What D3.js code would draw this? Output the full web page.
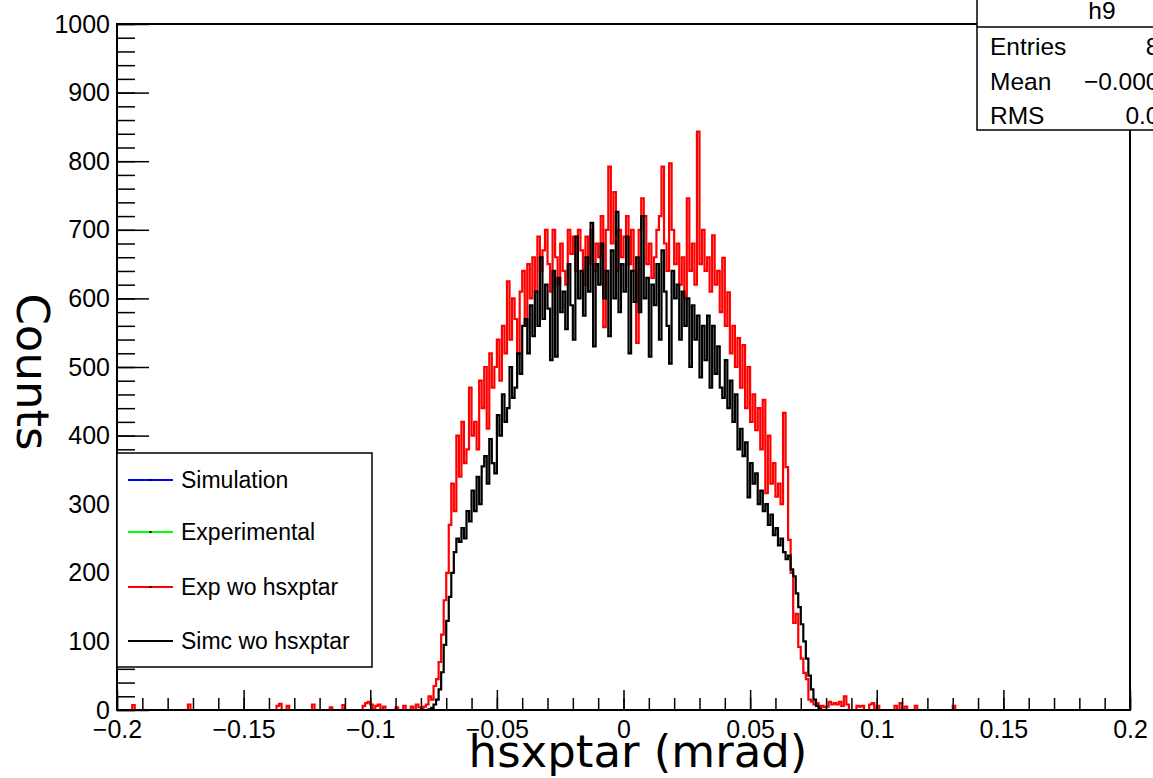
<!DOCTYPE html>
<html>
<head>
<meta charset="utf-8">
<script src="https://cdn.jsdelivr.net/npm/d3@7"></script>
<style>
  body { margin: 0; background: #fff; }
  svg { display: block; }
</style>
</head>
<body>
<svg width="1153" height="778"></svg>
<script>
// histogram settings: 400 bins of 0.001 between -0.2 and 0.2
const binWidth = 0.001
const nBins = 400
const coreStart = -0.080   // first bin low edge of the arrays below

// Simc wo hsxptar (black), bins from -0.080 to 0.079
const simcCounts = [
  0,0,0,1,3,8,15,30,55,95,
  130,165,200,230,250,245,265,250,290,275,
  320,290,340,300,355,370,330,395,360,345,
  430,400,460,420,440,500,455,470,520,490,
  560,570,520,590,545,610,560,660,570,620,
  585,510,640,515,630,580,610,555,650,590,
  540,690,600,640,575,660,610,710,530,650,
  620,680,600,640,545,670,600,726,580,650,
  610,690,520,640,595,660,580,720,600,630,
  515,620,590,650,540,670,610,560,505,640,
  600,620,540,610,560,600,500,590,540,575,
  485,560,510,575,470,560,490,530,470,455,
  510,440,480,420,460,380,410,370,390,310,
  360,330,345,300,320,290,300,270,285,255,
  265,240,250,230,220,225,205,195,170,150,
  125,100,75,50,30,15,6,2,0,0
]

// Exp wo hsxptar (red), same bins
const expCounts = [
  3,5,8,20,15,35,45,70,110,160,
  200,270,330,290,400,340,420,360,380,470,
  400,420,380,480,440,500,410,520,470,500,
  540,480,560,520,625,540,600,570,520,610,
  640,560,650,600,660,610,690,640,670,700,
  650,610,700,660,620,680,640,620,700,665,
  690,640,700,670,620,690,650,700,640,680,
  660,720,558,700,792,680,755,640,700,660,
  690,720,650,700,640,535,700,746,720,650,
  680,630,660,700,720,792,680,640,797,700,
  650,680,620,660,600,746,640,680,620,843,
  650,700,640,660,610,692,620,640,580,659,
  560,609,520,560,500,542,470,532,440,500,
  420,460,408,440,380,452,316,400,330,360,
  311,330,300,433,354,248,200,127,140,92,
  75,54,45,15,12,8,10,5,6,4
]

// few scattered red entries outside the main peak (bin low edges)
const expTailBins = [-0.194,-0.172,-0.137,-0.136,-0.133,-0.123,-0.116,-0.111,-0.103,-0.102,
  -0.101,-0.100,-0.098,-0.097,-0.095,-0.090,-0.087,-0.084,-0.082,-0.081,
  0.080,0.081,0.082,0.083,0.084,0.085,0.086,0.087,0.088,0.092,
  0.093,0.094,0.097,0.098,0.100,0.107,0.109,0.111,0.115,0.130]
const expTailCounts = [7,8,6,9,6,8,4,7,6,10,
  12,8,6,8,5,4,6,5,8,4,
  5,12,8,10,8,12,6,20,8,6,
  5,6,8,10,6,6,10,5,6,6]

const xTickValues = [-0.2,-0.15,-0.1,-0.05,0,0.05,0.1,0.15,0.2]
const yTickValues = [0,100,200,300,400,500,600,700,800,900,1000]

const legendLabels = ['Simulation','Experimental','Exp wo hsxptar','Simc wo hsxptar']
const legendColors = ['#0000ff','#00ff00','#ff0000','#000000']

const statsTitle = 'h9'
const statsLabels = ['Entries','Mean','RMS']
const statsValues = ['80452','\u22120.0003817','0.03592']

const svg = d3.select('svg')
const tickFont = '"Liberation Sans", Arial, Helvetica, sans-serif'
const titleFont = '"DejaVu Sans", Verdana, sans-serif'

// frame of the pad
const frame = {left: 117, right: 1130, top: 24, bottom: 710}

const xScale = d3.scaleLinear().domain([-0.2, 0.2]).range([frame.left, frame.right])
const yScale = d3.scaleLinear().domain([0, 1000]).range([frame.bottom, frame.top])

// put the short arrays into the full 400 bin array
const fillBins = (core, tailBins, tailCounts) => {
  const counts = new Array(nBins).fill(0)
  const offset = Math.round((coreStart + 0.2) / binWidth)
  core.forEach((c, i) => { counts[offset + i] = c })
  tailBins.forEach((b, i) => { counts[Math.round((b + 0.2) / binWidth)] = tailCounts[i] })
  return counts
}
const toSteps = counts => {
  const pts = counts.map((c, i) => [-0.2 + i * binWidth, c])
  pts.push([0.2, counts[nBins - 1]])
  return pts
}

const simcBins = fillBins(simcCounts, [], [])
const expBins = fillBins(expCounts, expTailBins, expTailCounts)

svg.append('defs').append('clipPath').attr('id', 'frameClip')
  .append('rect')
  .attr('x', frame.left).attr('y', frame.top)
  .attr('width', frame.right - frame.left).attr('height', frame.bottom - frame.top)

const stepLine = d3.line()
  .x(d => xScale(d[0]))
  .y(d => yScale(d[1]))
  .curve(d3.curveStepAfter)

const hists = svg.append('g').attr('clip-path', 'url(#frameClip)')
hists.append('path')
  .attr('d', stepLine(toSteps(expBins)))
  .attr('fill', 'none').attr('stroke', '#ff0000').attr('stroke-width', 2.2)
hists.append('path')
  .attr('d', stepLine(toSteps(simcBins)))
  .attr('fill', 'none').attr('stroke', '#000000').attr('stroke-width', 2.2)

// axes: ROOT style ticks pointing into the frame
const yMajor = d3.axisLeft(yScale).tickValues(yTickValues).tickSize(-32).tickPadding(7)
  .tickFormat(d3.format('d'))
const yMinor = d3.axisLeft(yScale).tickValues(d3.range(0, 1001, 20)).tickSize(-18).tickFormat('')
const xMajor = d3.axisBottom(xScale).tickValues(xTickValues).tickSize(-20).tickPadding(10)
  .tickFormat(d3.format('~g'))
const xMinor = d3.axisBottom(xScale)
  .tickValues(d3.range(-20, 21).map(k => k / 100)).tickSize(-12).tickFormat('')

const styleAxis = g => {
  g.select('.domain').remove()
  g.selectAll('line').attr('stroke', '#000').attr('stroke-width', 1.5)
  g.selectAll('text').attr('font-family', tickFont).attr('font-size', 25).attr('fill', '#000')
}

svg.append('g').attr('transform', `translate(${frame.left},0)`).call(yMinor).call(styleAxis)
svg.append('g').attr('transform', `translate(${frame.left},0)`).call(yMajor).call(styleAxis)
svg.append('g').attr('transform', `translate(0,${frame.bottom})`).call(xMinor).call(styleAxis)
svg.append('g').attr('transform', `translate(0,${frame.bottom})`).call(xMajor).call(styleAxis)

svg.append('rect')
  .attr('x', frame.left).attr('y', frame.top)
  .attr('width', frame.right - frame.left).attr('height', frame.bottom - frame.top)
  .attr('fill', 'none').attr('stroke', '#000').attr('stroke-width', 2)

// axis titles
svg.append('text')
  .attr('x', 638).attr('y', 767)
  .attr('text-anchor', 'middle')
  .attr('font-family', titleFont).attr('font-size', 45)
  .text('hsxptar (mrad)')

svg.append('text')
  .attr('transform', 'translate(17,372) rotate(90)')
  .attr('text-anchor', 'middle')
  .attr('font-family', titleFont).attr('font-size', 45)
  .text('Counts')

// legend box
const legend = svg.append('g')
legend.append('rect')
  .attr('x', 117).attr('y', 453).attr('width', 255).attr('height', 214)
  .attr('fill', '#fff').attr('stroke', '#000').attr('stroke-width', 1.5)
const legendY = [480, 532, 587, 641]
legendLabels.forEach((label, i) => {
  legend.append('line')
    .attr('x1', 128).attr('x2', 173).attr('y1', legendY[i]).attr('y2', legendY[i])
    .attr('stroke', legendColors[i]).attr('stroke-width', 2)
  if (i < 3) {
    legend.append('rect').attr('x', 149.5).attr('y', legendY[i] - 1)
      .attr('width', 2).attr('height', 2).attr('fill', '#000')
  }
  legend.append('text')
    .attr('x', 181).attr('y', legendY[i] + 8)
    .attr('font-family', tickFont).attr('font-size', 23)
    .text(label)
})

// stats box, partly outside the canvas like in the original
const stats = svg.append('g')
stats.append('rect')
  .attr('x', 977).attr('y', -2).attr('width', 250).attr('height', 132)
  .attr('fill', '#fff').attr('stroke', '#000').attr('stroke-width', 1.5)
stats.append('line')
  .attr('x1', 977).attr('x2', 1227).attr('y1', 27).attr('y2', 27)
  .attr('stroke', '#000').attr('stroke-width', 1.5)
stats.append('text')
  .attr('x', 1102).attr('y', 19).attr('text-anchor', 'middle')
  .attr('font-family', tickFont).attr('font-size', 24.5)
  .text(statsTitle)
const statsY = [55, 90, 124]
statsLabels.forEach((label, i) => {
  stats.append('text')
    .attr('x', 990).attr('y', statsY[i])
    .attr('font-family', tickFont).attr('font-size', 24.5)
    .text(label)
  stats.append('text')
    .attr('x', 1214).attr('y', statsY[i]).attr('text-anchor', 'end')
    .attr('font-family', tickFont).attr('font-size', 24.5)
    .text(statsValues[i])
})
</script>
</body>
</html>
